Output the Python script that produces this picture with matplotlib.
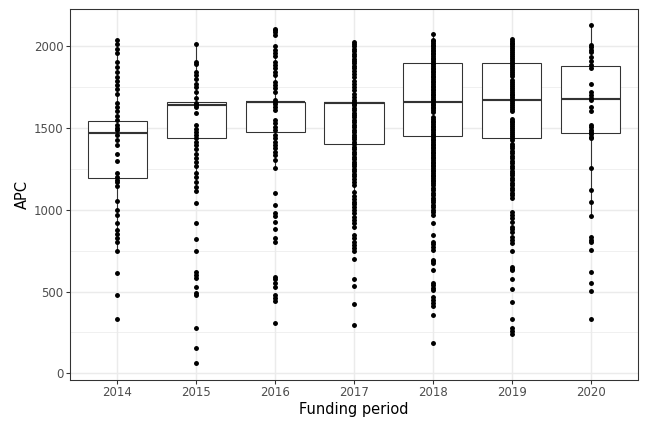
import numpy as np
import matplotlib.pyplot as plt

years = ['2014', '2015', '2016', '2017', '2018', '2019', '2020']

# box statistics
q1 = [1192, 1442, 1475, 1400, 1450, 1442, 1467]
med = [1467, 1640, 1658, 1655, 1660, 1670, 1675]
q3 = [1540, 1660, 1662, 1660, 1899, 1895, 1878]
whislo = [748, 1141, 1253, 1018, 970, 1070, 963]
whishi = [2041, 2013, 1938, 2027, 2078, 2047, 2129]

apc_2014 = [2041, 2013, 1984, 1956, 1901, 1872, 1843, 1813, 1789, 1762, 1736, 1707,
            1654, 1630, 1603, 1573, 1548, 1520, 1503, 1487, 1457, 1426, 1395, 1344,
            1298, 1226, 1202, 1182, 1171, 1145, 1051, 998, 968, 917, 876, 851, 825,
            805, 748, 611, 477, 334]
apc_2015 = [2013, 1905, 1894, 1843, 1823, 1797, 1772, 1748, 1721, 1681, 1654, 1640,
            1626, 1589, 1518, 1497, 1477, 1456, 1436, 1416, 1395, 1369, 1344, 1318,
            1293, 1267, 1222, 1202, 1171, 1141, 1112, 1039, 917, 823, 750, 621, 601,
            581, 526, 489, 479, 275, 153, 61]
apc_2016 = [2108, 2098, 2088, 2068, 2000, 1980, 1960, 1940, 1905, 1885, 1865, 1845,
            1825, 1782, 1762, 1742, 1721, 1670, 1660, 1650, 1630, 1609, 1548, 1528,
            1507, 1487, 1456, 1436, 1416, 1395, 1375, 1354, 1334, 1304, 1253, 1104,
            1029, 978, 961, 926, 881, 830, 800, 590, 574, 550, 529, 479, 458, 444, 309]
apc_2017 = [2027, 2015, 2000, 1985, 1970, 1955, 1940, 1925, 1910, 1895, 1880, 1865,
            1850, 1830, 1810, 1790, 1770, 1750, 1730, 1710, 1690, 1670, 1660, 1655,
            1650, 1640, 1625, 1610, 1595, 1580, 1565, 1550, 1535, 1520, 1505, 1490,
            1475, 1460, 1445, 1430, 1415, 1400, 1385, 1370, 1355, 1340, 1325, 1310,
            1295, 1280, 1265, 1250, 1235, 1220, 1205, 1190, 1171, 1151, 1110, 1084,
            1063, 1049, 1035, 1018, 998, 978, 958, 937, 917, 897, 845, 825, 804, 784,
            764, 749, 697, 575, 534, 422, 295]
apc_2018 = [2078, 2040, 2030, 2020, 2010, 2000, 1990, 1980, 1970, 1960, 1950, 1940,
            1930, 1920, 1910, 1900, 1890, 1880, 1870, 1860, 1850, 1840, 1830, 1820,
            1810, 1800, 1790, 1780, 1770, 1760, 1750, 1740, 1730, 1720, 1710, 1700,
            1690, 1680, 1670, 1660, 1650, 1640, 1630, 1620, 1610, 1600, 1565, 1555,
            1545, 1535, 1525, 1515, 1505, 1495, 1485, 1475, 1465, 1455, 1445, 1435,
            1425, 1415, 1405, 1395, 1385, 1375, 1365, 1355, 1345, 1335, 1325, 1315,
            1305, 1295, 1285, 1275, 1265, 1255, 1245, 1235, 1225, 1215, 1205, 1195,
            1185, 1175, 1165, 1150, 1135, 1120, 1105, 1090, 1075, 1060, 1045, 1030,
            1015, 1000, 985, 970, 917, 845, 804, 790, 775, 754, 693, 684, 674, 631,
            552, 538, 524, 509, 468, 450, 430, 411, 356, 183]
apc_2019 = [2047, 2035, 2023, 2011, 1999, 1987, 1975, 1963, 1951, 1939, 1927, 1915,
            1903, 1891, 1879, 1867, 1855, 1843, 1831, 1819, 1795, 1783, 1771, 1759,
            1747, 1735, 1723, 1711, 1699, 1687, 1675, 1663, 1651, 1639, 1627, 1615,
            1603, 1558, 1546, 1534, 1522, 1510, 1498, 1486, 1474, 1462, 1450, 1438,
            1426, 1405, 1390, 1375, 1360, 1345, 1330, 1315, 1300, 1285, 1270, 1255,
            1240, 1225, 1210, 1195, 1180, 1165, 1150, 1135, 1120, 1105, 1090, 1070,
            988, 970, 950, 927, 896, 880, 866, 835, 815, 794, 750, 648, 640, 631, 575,
            514, 436, 330, 279, 261, 241]
apc_2020 = [2129, 2007, 1994, 1978, 1962, 1933, 1907, 1887, 1866, 1772, 1721, 1701,
            1686, 1670, 1630, 1605, 1518, 1508, 1491, 1477, 1462, 1446, 1436, 1253,
            1122, 1045, 963, 831, 815, 801, 754, 617, 552, 501, 332]

apc = [apc_2014, apc_2015, apc_2016, apc_2017, apc_2018, apc_2019, apc_2020]

fig = plt.figure(figsize=(6.75, 4.5), dpi=96)
ax = fig.add_axes([70 / 648, 1 - 380 / 432, 568 / 648, 371 / 432])

grey20 = '#333333'
grid_col = '#ebebeb'

# grid like theme_bw
for v in [250, 750, 1250, 1750]:
    ax.axhline(v, color=grid_col, lw=0.55, zorder=0)
for v in [0, 500, 1000, 1500, 2000]:
    ax.axhline(v, color=grid_col, lw=1.07, zorder=0)
pos = np.arange(1, len(years) + 1)
for p in pos:
    ax.axvline(p, color=grid_col, lw=1.07, zorder=0)

stats = []
for i in range(len(years)):
    stats.append(dict(q1=q1[i], med=med[i], q3=q3[i], whislo=whislo[i],
                      whishi=whishi[i], fliers=[], label=years[i]))
ax.bxp(stats, positions=pos, widths=0.75, showcaps=False, patch_artist=True,
       boxprops=dict(facecolor='white', edgecolor=grey20, linewidth=0.8),
       whiskerprops=dict(color=grey20, linewidth=0.8),
       medianprops=dict(color=grey20, linewidth=1.6),
       zorder=2)

for p, vals in zip(pos, apc):
    ax.plot(np.full(len(vals), p), vals, 'o', color='black', ms=3.7,
            mew=0, zorder=3)

ax.set_xlim(0.4, 7.6)
ax.set_ylim(-41, 2228)
ax.set_xticks(pos)
ax.set_xticklabels(years)
ax.set_yticks([0, 500, 1000, 1500, 2000])
ax.tick_params(colors=grey20, labelcolor='#4d4d4d', labelsize=8.8, length=2.75,
               width=0.8, pad=2)
for s in ax.spines.values():
    s.set_color(grey20)
    s.set_linewidth(0.8)
ax.set_xlabel('Funding period', fontsize=11, labelpad=2)
ax.set_ylabel('APC', fontsize=11, labelpad=3)

fig.savefig('out.png', dpi=96)
